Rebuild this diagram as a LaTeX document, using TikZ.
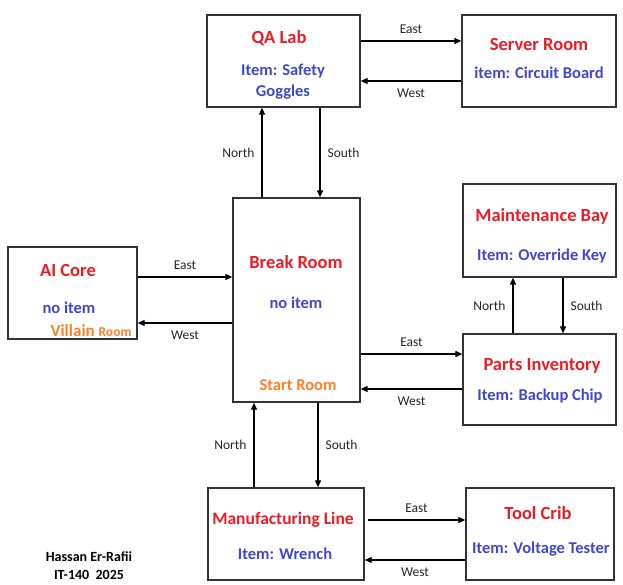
\documentclass[tikz,border=0pt]{standalone}
\usepackage{fontspec}
\setmainfont{Carlito}
\usepackage{tikz}
\usetikzlibrary{arrows.meta}
\definecolor{roomRed}{HTML}{EC1C24}
\definecolor{itemBlue}{HTML}{3F48CC}
\definecolor{tagOrange}{HTML}{FF7F27}
\definecolor{boxGray}{HTML}{333333}
\tikzset{
  room/.style={draw=boxGray, line width=1.3pt, rectangle, inner sep=0pt},
  flow/.style={-{Triangle[length=7pt,width=6pt]}, line width=1.1pt, draw=black},
  title/.style={font=\fontsize{18.5}{20}\selectfont\bfseries, text=roomRed, inner sep=0pt},
  item/.style={font=\fontsize{16.5}{20}\selectfont\bfseries, text=itemBlue, inner sep=0pt},
  tag/.style={font=\fontsize{16.5}{20}\selectfont\bfseries, text=tagOrange, inner sep=0pt},
  dir/.style={font=\fontsize{13.5}{15}\selectfont, text=black!85, inner sep=7pt},
  credit/.style={font=\fontsize{14}{18}\selectfont\bfseries, align=center, inner sep=0pt}
}
\begin{document}
\begin{tikzpicture}[x=1pt, y=-1pt]
  \useasboundingbox (0,0) rectangle (623,585);
  % rooms
  \node[room, minimum width=153pt, minimum height=92pt] (qa) at (283.5,61) {};
  \node[room, minimum width=154pt, minimum height=92pt] (srv) at (539,61) {};
  \node[room, minimum width=127pt, minimum height=204pt] (brk) at (296.5,300) {};
  \node[room, minimum width=153pt, minimum height=93pt] (mnt) at (539.5,230.5) {};
  \node[room, minimum width=153pt, minimum height=91pt] (prt) at (539.5,379.5) {};
  \node[room, minimum width=129pt, minimum height=92pt] (ai) at (72.5,293) {};
  \node[room, minimum width=156pt, minimum height=92pt] (mfg) at (286,534) {};
  \node[room, minimum width=148pt, minimum height=92pt] (tool) at (540,534) {};
  % room texts
  \node[title] (qaT) at (279,38) {QA Lab};
  \node[item] (qaI) at (283,71) {Item: Safety};
  \node[item] (qaI2) at (283,92) {Goggles};
  \node[title] (srvT) at (539,45) {Server Room};
  \node[item] (srvI) at (539,73) {item: Circuit Board};
  \node[title] (brkT) at (296,262) {Break Room};
  \node[item] (brkI) at (296,303) {no item};
  \node[tag] (brkS) at (298,385) {Start Room};
  \node[title] (aiT) at (68,271) {AI Core};
  \node[item] (aiI) at (69,308) {no item};
  \node[tag] (aiV) at (91,331) {\fontsize{17}{20}\selectfont Villain {\fontsize{13.5}{15}\selectfont Room}};
  \node[title] (mntT) at (542,216) {Maintenance Bay};
  \node[item] (mntI) at (542,256) {Item: Override Key};
  \node[title] (prtT) at (542,366) {Parts Inventory};
  \node[item] (prtI) at (540,396) {Item: Backup Chip};
  \node[title, font=\fontsize{17.5}{20}\selectfont\bfseries] (mfgT) at (283,520) {Manufacturing Line};
  \node[item] (mfgI) at (285,554) {Item: Wrench};
  \node[title] (toolT) at (538,513) {Tool Crib};
  \node[item] (toolI) at (541,549) {Item: Voltage Tester};
  \node[credit] (who) at (89,566) {Hassan Er-Rafii\\IT-140\ \ 2025};
  % exits
  \draw[flow] ([yshift=20pt]qa.east) -- node[dir, above] {East} ([yshift=20pt]srv.west);
  \draw[flow] ([yshift=-20pt]srv.west) -- node[dir, below] {West} ([yshift=-20pt]qa.east);
  \draw[flow] ([xshift=-34.5pt]brk.north) -- node[dir, left] {North} ([xshift=-21.5pt]qa.south);
  \draw[flow] ([xshift=36.5pt]qa.south) -- node[dir, right] {South} ([xshift=23.5pt]brk.north);
  \draw[flow] ([yshift=16pt]ai.east) -- node[dir, above] {East} ([yshift=23pt]brk.west);
  \draw[flow] ([yshift=-23pt]brk.west) -- node[dir, below] {West} ([yshift=-30pt]ai.east);
  \draw[flow] ([yshift=-54pt]brk.east) -- node[dir, above] {East} ([yshift=25.5pt]prt.west);
  \draw[flow] ([yshift=-9.5pt]prt.west) -- node[dir, below] {West} ([yshift=-89pt]brk.east);
  \draw[flow] ([xshift=-26.5pt]prt.north) -- node[dir, left] {North} ([xshift=-26.5pt]mnt.south);
  \draw[flow] ([xshift=23.5pt]mnt.south) -- node[dir, right] {South} ([xshift=23.5pt]prt.north);
  \draw[flow] ([xshift=-32pt]mfg.north) -- node[dir, left] {North} ([xshift=-42.5pt]brk.south);
  \draw[flow] ([xshift=21.5pt]brk.south) -- node[dir, right] {South} ([xshift=32pt]mfg.north);
  \draw[flow] ([xshift=3pt, yshift=14pt]mfg.east) -- node[dir, above] {East} ([yshift=14pt]tool.west);
  \draw[flow] ([yshift=-26pt]tool.west) -- node[dir, below] {West} ([yshift=-26pt]mfg.east);
\end{tikzpicture}
\end{document}
